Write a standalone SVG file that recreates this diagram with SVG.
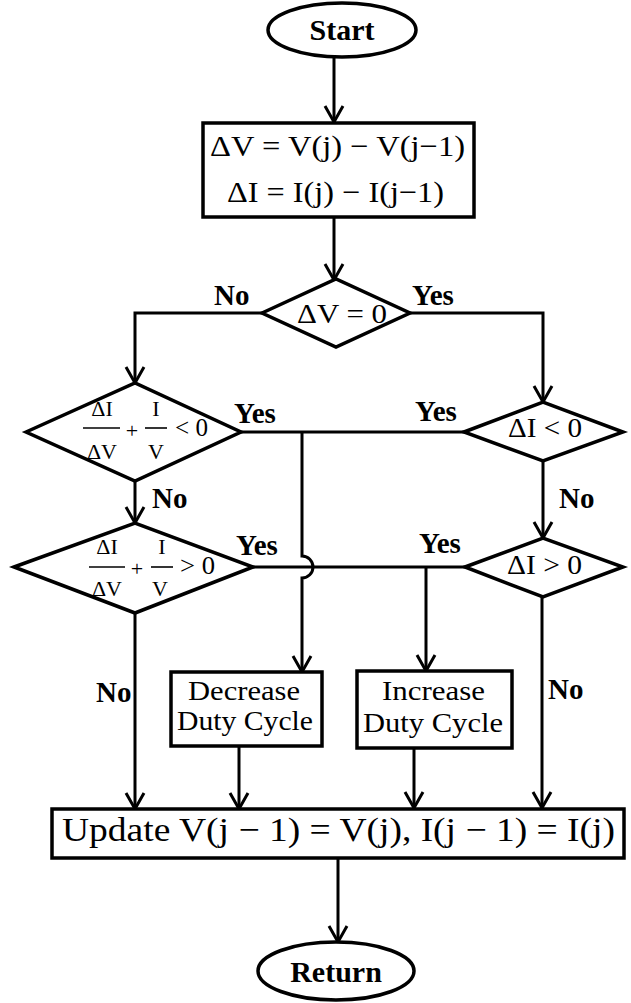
<svg xmlns="http://www.w3.org/2000/svg" width="631" height="1003" viewBox="0 0 631 1003">
<style>
.shape{fill:#fff;stroke:#000;stroke-width:3.5}
.conn{fill:none;stroke:#000;stroke-width:3}
.bar{stroke:#000;stroke-width:1.6}
.t{font-family:"Liberation Serif","Times New Roman",serif;fill:#000}
.b{font-family:"Liberation Serif","Times New Roman",serif;font-weight:bold;fill:#000}
.lbl{font-family:"Liberation Serif","Times New Roman",serif;font-weight:bold;font-size:29px;fill:#000}
.fr{font-family:"Liberation Serif","Times New Roman",serif;font-size:22px;fill:#000;text-anchor:middle}
</style>
<defs>
<marker id="arr" viewBox="-20 -12 24 24" markerWidth="24" markerHeight="24" refX="0" refY="0" orient="auto" markerUnits="userSpaceOnUse" overflow="visible">
<path d="M-16,-9 L0,0 L-16,9" fill="none" stroke="#000" stroke-width="3"/>
</marker>
</defs>
<rect width="631" height="1003" fill="#fff"/>
<g id="connectors">
<path class="conn" d="M334,57 V122" marker-end="url(#arr)"/>
<path class="conn" d="M334,217 V280" marker-end="url(#arr)"/>
<path class="conn" d="M262,313 H135 V383" marker-end="url(#arr)"/>
<path class="conn" d="M410,313 H543 V402" marker-end="url(#arr)"/>
<path class="conn" d="M135,481 V523" marker-end="url(#arr)"/>
<path class="conn" d="M543,461 V538" marker-end="url(#arr)"/>
<path class="conn" d="M241,432 H464"/>
<path class="conn" d="M302,432 V556 A11,11 0 0 1 302,578 V672" marker-end="url(#arr)"/>
<path class="conn" d="M253,567 H465"/>
<path class="conn" d="M426,567 V671" marker-end="url(#arr)"/>
<path class="conn" d="M135,613 V809" marker-end="url(#arr)"/>
<path class="conn" d="M239,746 V809" marker-end="url(#arr)"/>
<path class="conn" d="M414,748 V808" marker-end="url(#arr)"/>
<path class="conn" d="M542,597 V808" marker-end="url(#arr)"/>
<path class="conn" d="M338,858 V942" marker-end="url(#arr)"/>
<text class="lbl" x="214" y="305">No</text>
<text class="lbl" x="412" y="305">Yes</text>
<text class="lbl" x="234" y="423">Yes</text>
<text class="lbl" x="415" y="421">Yes</text>
<text class="lbl" x="152" y="508">No</text>
<text class="lbl" x="559" y="508">No</text>
<text class="lbl" x="236" y="555">Yes</text>
<text class="lbl" x="419" y="553">Yes</text>
<text class="lbl" x="96" y="702">No</text>
<text class="lbl" x="548" y="699">No</text>
</g>
<g id="start">
<ellipse class="shape" cx="342" cy="30" rx="74" ry="27"/>
<text class="b" x="342" y="40" font-size="30" text-anchor="middle">Start</text>
</g>
<g id="compute">
<rect class="shape" x="203" y="123" width="271" height="94"/>
<text class="t" x="210" y="156" font-size="30" textLength="255" lengthAdjust="spacingAndGlyphs">ΔV = V(j) − V(j−1)</text>
<text class="t" x="227" y="202" font-size="30" textLength="217" lengthAdjust="spacingAndGlyphs">ΔI = I(j) − I(j−1)</text>
</g>
<g id="dv-zero">
<polygon class="shape" points="262,313 336,279 410,313 336,347"/>
<text class="t" x="297" y="323" font-size="28" textLength="90" lengthAdjust="spacingAndGlyphs">ΔV = 0</text>
</g>
<g id="di-lt">
<polygon class="shape" points="464,432 543,402 623,432 543,461"/>
<text class="t" x="508" y="437" font-size="28" textLength="74" lengthAdjust="spacingAndGlyphs">ΔI &lt; 0</text>
</g>
<g id="di-gt">
<polygon class="shape" points="465,567 543,538 623,567 543,597"/>
<text class="t" x="507" y="574" font-size="28" textLength="75" lengthAdjust="spacingAndGlyphs">ΔI &gt; 0</text>
</g>
<g id="inc-lt">
<polygon class="shape" points="26,432 135,383 241,432 135,481"/>
<text class="fr" x="102" y="416">ΔI</text>
<line class="bar" x1="83" y1="428" x2="120" y2="428"/>
<text class="fr" x="102" y="459">ΔV</text>
<text class="fr" x="132" y="438">+</text>
<text class="fr" x="156" y="416">I</text>
<line class="bar" x1="145" y1="428" x2="167" y2="428"/>
<text class="fr" x="156" y="459">V</text>
<text class="t" x="175" y="436" font-size="25" textLength="33" lengthAdjust="spacingAndGlyphs">&lt; 0</text>
</g>
<g id="inc-gt">
<polygon class="shape" points="14,567 135,523 253,567 135,613"/>
<text class="fr" x="107" y="554">ΔI</text>
<line class="bar" x1="89" y1="567" x2="125" y2="567"/>
<text class="fr" x="107" y="596">ΔV</text>
<text class="fr" x="137" y="576">+</text>
<text class="fr" x="162" y="554">I</text>
<line class="bar" x1="151" y1="567" x2="173" y2="567"/>
<text class="fr" x="160" y="596">V</text>
<text class="t" x="180" y="574" font-size="25" textLength="35" lengthAdjust="spacingAndGlyphs">&gt; 0</text>
</g>
<g id="decrease">
<rect class="shape" x="171" y="672" width="151" height="74"/>
<text class="t" x="188" y="700" font-size="28" textLength="112" lengthAdjust="spacingAndGlyphs">Decrease</text>
<text class="t" x="177" y="730" font-size="28" textLength="136" lengthAdjust="spacingAndGlyphs">Duty Cycle</text>
</g>
<g id="increase">
<rect class="shape" x="357" y="671" width="155" height="77"/>
<text class="t" x="382" y="700" font-size="28" textLength="103" lengthAdjust="spacingAndGlyphs">Increase</text>
<text class="t" x="363" y="732" font-size="28" textLength="140" lengthAdjust="spacingAndGlyphs">Duty Cycle</text>
</g>
<g id="update">
<rect class="shape" x="52" y="809" width="572" height="49"/>
<text class="t" x="62" y="841" font-size="34" textLength="553" lengthAdjust="spacingAndGlyphs">Update V(j − 1) = V(j), I(j − 1) = I(j)</text>
</g>
<g id="return">
<ellipse class="shape" cx="336" cy="971" rx="78" ry="29"/>
<text class="b" x="336" y="982" font-size="30" text-anchor="middle">Return</text>
</g>
</svg>
